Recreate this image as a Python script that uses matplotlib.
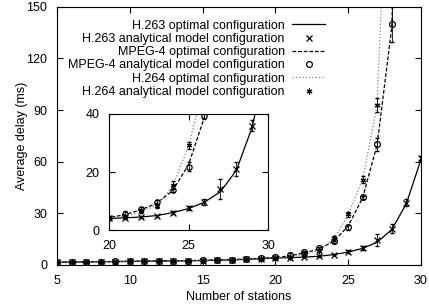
import numpy as np
import matplotlib
matplotlib.use("Agg")
import matplotlib.pyplot as plt

plt.rcParams["font.family"] = ["Liberation Sans", "DejaVu Sans"]
plt.rcParams["font.size"] = 9

# datos
stations = list(range(5, 31))

h263_opt = [1.5, 1.6, 1.7, 1.8, 1.9, 2.0, 2.1, 2.2, 2.3, 2.4, 2.5, 2.7, 2.9, 3.2, 3.6,
            4.0, 4.2, 4.5, 5.0, 6.0, 7.4, 9.6, 13.2, 20.5, 35.5, 61.0]
h263_ana = [1.5, 1.6, 1.7, 1.8, 1.9, 2.0, 2.1, 2.2, 2.3, 2.4, 2.5, 2.7, 2.9, 3.2, 3.6,
            4.1, 4.2, 4.6, 4.9, 6.0, 7.6, 9.8, 14.2, 21.0, 36.0, 62.0]
h263_err = [0.1] * 16 + [0.3, 0.3, 0.3, 0.5, 0.8, 1.0, 3.5, 2.5, 2.0, 1.5]

mpeg4_opt = [1.6, 1.7, 1.8, 1.9, 2.0, 2.1, 2.2, 2.3, 2.4, 2.5, 2.7, 2.9, 3.1, 3.4, 3.8,
             4.3, 5.3, 7.0, 9.2, 13.6, 22.5, 39.0, 70.0, 138.0, 420.0, 1200.0]
mpeg4_ana = [1.6, 1.7, 1.8, 1.9, 2.0, 2.1, 2.2, 2.3, 2.4, 2.5, 2.7, 2.9, 3.1, 3.4, 3.8,
             4.3, 5.5, 7.3, 9.6, 13.8, 21.8, 39.3, 70.0, 139.7]
mpeg4_err = [0.1] * 16 + [1.2, 0.8, 0.6, 0.8, 1.5, 1.0, 4.0, 10.0]

h264_opt = [1.5, 1.6, 1.7, 1.8, 1.9, 2.0, 2.1, 2.2, 2.3, 2.4, 2.6, 2.8, 3.0, 3.3, 3.7,
            4.2, 4.7, 6.2, 8.5, 15.0, 29.0, 50.0, 93.0, 300.0]
h264_ana = [1.5, 1.6, 1.7, 1.8, 1.9, 2.0, 2.1, 2.2, 2.3, 2.4, 2.6, 2.8, 3.0, 3.3, 3.7,
            4.2, 4.8, 6.6, 8.3, 15.5, 29.3, 49.6, 93.0]
h264_err = [0.1] * 16 + [0.4, 0.6, 0.8, 1.5, 1.2, 2.0, 4.0]


def dibujar(ax, ms=3.5, leyenda=False):
    ax.plot(stations, h263_opt, "-", color="black", lw=0.9,
            label="H.263 optimal configuration" if leyenda else None)
    ax.errorbar(stations, h263_ana, yerr=h263_err, fmt="none", ecolor="black",
                elinewidth=0.6, capsize=1.5)
    ax.plot(stations, h263_ana, "x", color="black", ms=ms, mew=0.9,
            label="H.263 analytical model configuration" if leyenda else None)
    ax.plot(stations[:len(mpeg4_opt)], mpeg4_opt, "--", color="black", lw=0.9,
            dashes=(3, 1.5),
            label="MPEG-4 optimal configuration" if leyenda else None)
    ax.errorbar(stations[:len(mpeg4_ana)], mpeg4_ana, yerr=mpeg4_err, fmt="none",
                ecolor="black", elinewidth=0.6, capsize=1.5)
    ax.plot(stations[:len(mpeg4_ana)], mpeg4_ana, "o", color="black", mfc="none",
            ms=ms, mew=0.9,
            label="MPEG-4 analytical model configuration" if leyenda else None)
    ax.plot(stations[:len(h264_opt)], h264_opt, ":", color="gray", lw=0.9,
            label="H.264 optimal configuration" if leyenda else None)
    ax.errorbar(stations[:len(h264_ana)], h264_ana, yerr=h264_err, fmt="none",
                ecolor="black", elinewidth=0.6, capsize=1.5)
    ax.plot(stations[:len(h264_ana)], h264_ana, marker=(6, 2, 0), ls="none",
            color="black", ms=ms, mew=0.8,
            label="H.264 analytical model configuration" if leyenda else None)


fig = plt.figure(figsize=(4.29, 3.08), dpi=100)
ax = fig.add_axes([0.133, 0.140, 0.848, 0.838])
dibujar(ax, ms=4.2, leyenda=True)
ax.set_xlim(5, 30)
ax.set_ylim(0, 150)
ax.set_xticks([5, 10, 15, 20, 25, 30])
ax.set_yticks([0, 30, 60, 90, 120, 150])
ax.tick_params(direction="in", top=True, right=True, length=4, pad=7)
ax.set_xlabel("Number of stations", labelpad=3)
ax.set_ylabel("Average delay (ms)", labelpad=-1)
ax.legend(loc="upper right", frameon=False, markerfirst=False, fontsize=9,
          handlelength=2.6, handletextpad=0.6, labelspacing=0.1,
          borderaxespad=0, borderpad=0, bbox_to_anchor=(0.736, 0.95))

# inset
axi = fig.add_axes([0.254, 0.253, 0.371, 0.377])
dibujar(axi, ms=3.8)
axi.set_xlim(20, 30)
axi.set_ylim(0, 40)
axi.set_xticks([20, 25, 30])
axi.set_yticks([0, 20, 40])
axi.tick_params(direction="in", top=True, right=True, length=4, pad=7)

fig.savefig("out.png", dpi=100)
